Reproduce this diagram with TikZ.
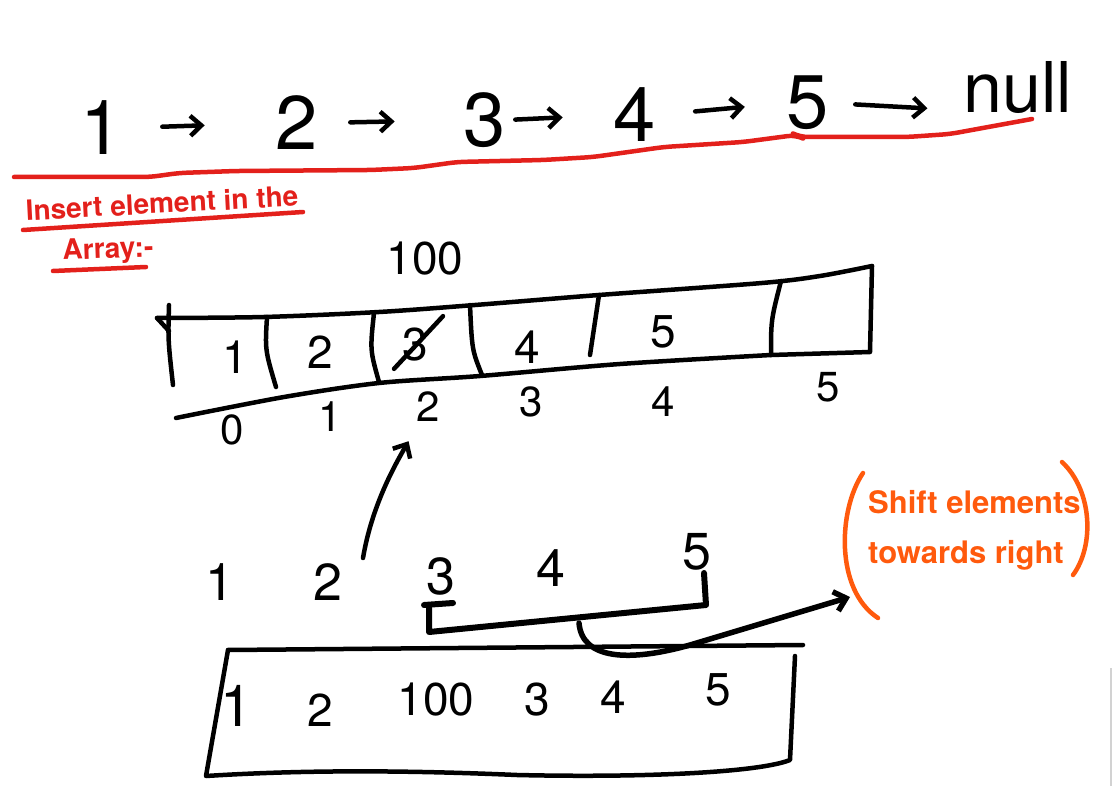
\documentclass[tikz,border=0pt]{standalone}
\usepackage{fontspec}
\setmainfont{TeX Gyre Heros}
\usetikzlibrary{positioning, arrows.meta}
\definecolor{inkred}{HTML}{E3201B}
\definecolor{inkorange}{HTML}{FF5A0D}
\tikzset{
	ink/.style={line width=4.5pt, line cap=round, line join=round},
	redink/.style={ink, draw=inkred},
	orangeink/.style={ink, draw=inkorange},
	inkarrow/.style={ink, -{Straight Barb[length=11pt,width=20pt]}},
	bigdigit/.style={inner sep=0pt, font=\fontsize{76}{76}\selectfont},
	celldigit/.style={inner sep=0pt, font=\fontsize{46}{46}\selectfont},
	indexdigit/.style={inner sep=0pt, font=\fontsize{42}{42}\selectfont},
	rowdigit/.style={inner sep=0pt, font=\fontsize{52}{52}\selectfont},
	rednote/.style={inner sep=0pt, text=inkred, font=\bfseries\fontsize{28}{28}\selectfont},
	orangenote/.style={inner sep=0pt, text=inkorange, align=left, font=\bfseries\fontsize{31}{50}\selectfont}
}
\begin{document}
\begin{tikzpicture}[x=1pt, y=-1pt]
	\useasboundingbox (0,0) rectangle (1114,805);
	% linked list
	\node [bigdigit] (n1) at (102,128) {1};
	\node [bigdigit] (n2) at (297,123) {2};
	\node [bigdigit] (n3) at (485,120) {3};
	\node [bigdigit] (n4) at (635,115) {4};
	\node [bigdigit] (n5) at (808,103) {5};
	\node [bigdigit, font=\fontsize{70}{70}\selectfont, anchor=base] (nnull) at (1018,113) {null};
	\draw [inkarrow, shorten <=39pt, shorten >=71pt] (n1.east) -- (n2.west);
	\draw [inkarrow, shorten <=32pt, shorten >=69pt] (n2.east) -- (n3.west);
	\draw [inkarrow, shorten <=9pt, shorten >=51pt] (n3.east) -- (n4.west);
	\draw [inkarrow, shorten <=39pt, shorten >=42pt] (n4.east) -- (n5.west);
	\draw [inkarrow, shorten <=26pt, shorten >=36pt] (n5.east) -- (nnull.mid west);
	\draw [redink, rounded corners=8pt] (14,177) -- (150,177) -- (179,173) -- (236,171) -- (371,170) -- (414,168) -- (457,162) -- (543,160) -- (593,157) -- (664,147) -- (743,142) -- (796,135) -- (800,137) -- (907,137) -- (950,134) -- (1032,119);

	% heading
	\node [rednote, rotate=3] (insert) at (162,203) {Insert element in the};
	\draw [redink] (23,230) -- (303,212);
	\node [rednote, rotate=2] (array) at (108,251) {Array:-};
	\draw [redink] (53,271) -- (146,267);

	% array before insertion
	\node [celldigit] (ins) at (425,259) {100};
	\draw [ink] plot [smooth] coordinates {(157,318) (264,317) (379,312) (475,305) (599,295) (762,283) (820,276) (872,266)};
	\draw [ink] (157,318) -- (169,331);
	\draw [ink] (169,305) .. controls (168,340) .. (173,385);
	\draw [ink] (267,317) .. controls (265,350) .. (276,387);
	\draw [ink] (374,313) .. controls (370,350) .. (379,382);
	\draw [ink] (470,305) .. controls (472,350) .. (482,375);
	\draw [ink] (599,295) -- (590,355);
	\draw [ink] (781,281) .. controls (771,320) .. (771,355);
	\draw [ink] (872,266) -- (870,352) -- (771,355);
	\draw [ink] plot [smooth] coordinates {(771,355) (620,364) (480,376) (379,383) (284,397) (176,418)};
	\node [celldigit] (c1) at (235,357) {1};
	\node [celldigit] (c2) at (320,352) {2};
	\node [celldigit] (c3) at (415,345) {3};
	\draw [ink] ([shift={(15,-12)}]c3.north east) -- ([shift={(-8,7)}]c3.south west);
	\node [celldigit] (c4) at (527,347) {4};
	\node [celldigit] (c5) at (663,332) {5};
	\node [indexdigit] (i0) at (232,430) {0};
	\node [indexdigit] (i1) at (330,417) {1};
	\node [indexdigit] (i2) at (428,407) {2};
	\node [indexdigit] (i3) at (531,402) {3};
	\node [indexdigit] (i4) at (663,402) {4};
	\node [indexdigit] (i5) at (828,387) {5};

	% elements to shift
	\node [rowdigit] (r1) at (220,582) {1};
	\node [rowdigit] (r2) at (328,582) {2};
	\node [rowdigit] (r3) at (441,576) {3};
	\node [rowdigit] (r4) at (551,568) {4};
	\node [rowdigit] (r5) at (697,552) {5};
	\coordinate (uptail) at (363,558);
	\draw [inkarrow, shorten >=22pt] (uptail) .. controls (372,505) and (395,465) .. (i2);
	\draw [ink, line width=6pt] (424,605) -- (453,603);
	\draw [ink, line width=6pt] (429,606) -- (429,632) -- (706,605) -- (704,573);
	\coordinate (shifttail) at (579,623);
	\coordinate (shifthead) at (850,597);
	\draw [inkarrow, line width=5.5pt] (shifttail) .. controls (582,660) and (630,662) .. (690,645) -- (shifthead);

	% array after insertion
	\draw [ink] (228,650) -- (803,645);
	\draw [ink] (228,650) -- (206,776) .. controls (300,770) and (400,770) .. (517,775) .. controls (650,778) and (760,772) .. (790,760) -- (795,656);
	\node [celldigit, font=\fontsize{58}{58}\selectfont] (b1) at (237,706) {1};
	\node [celldigit] (b2) at (320,710) {2};
	\node [celldigit] (b3) at (436,700) {100};
	\node [celldigit] (b4) at (537,700) {3};
	\node [celldigit] (b5) at (613,697) {4};
	\node [celldigit] (b6) at (718,690) {5};

	% note
	\node [orangenote, anchor=north west] (note) at (868,490) {Shift elements\\towards right};
	\draw [orangeink] (863,473) .. controls (838,510) and (835,590) .. (878,618);
	\draw [orangeink] (1062,462) .. controls (1092,490) and (1095,545) .. (1073,575);
	\draw [gray!35, line width=1.5pt] (1111,668) -- (1111,786);
\end{tikzpicture}
\end{document}
